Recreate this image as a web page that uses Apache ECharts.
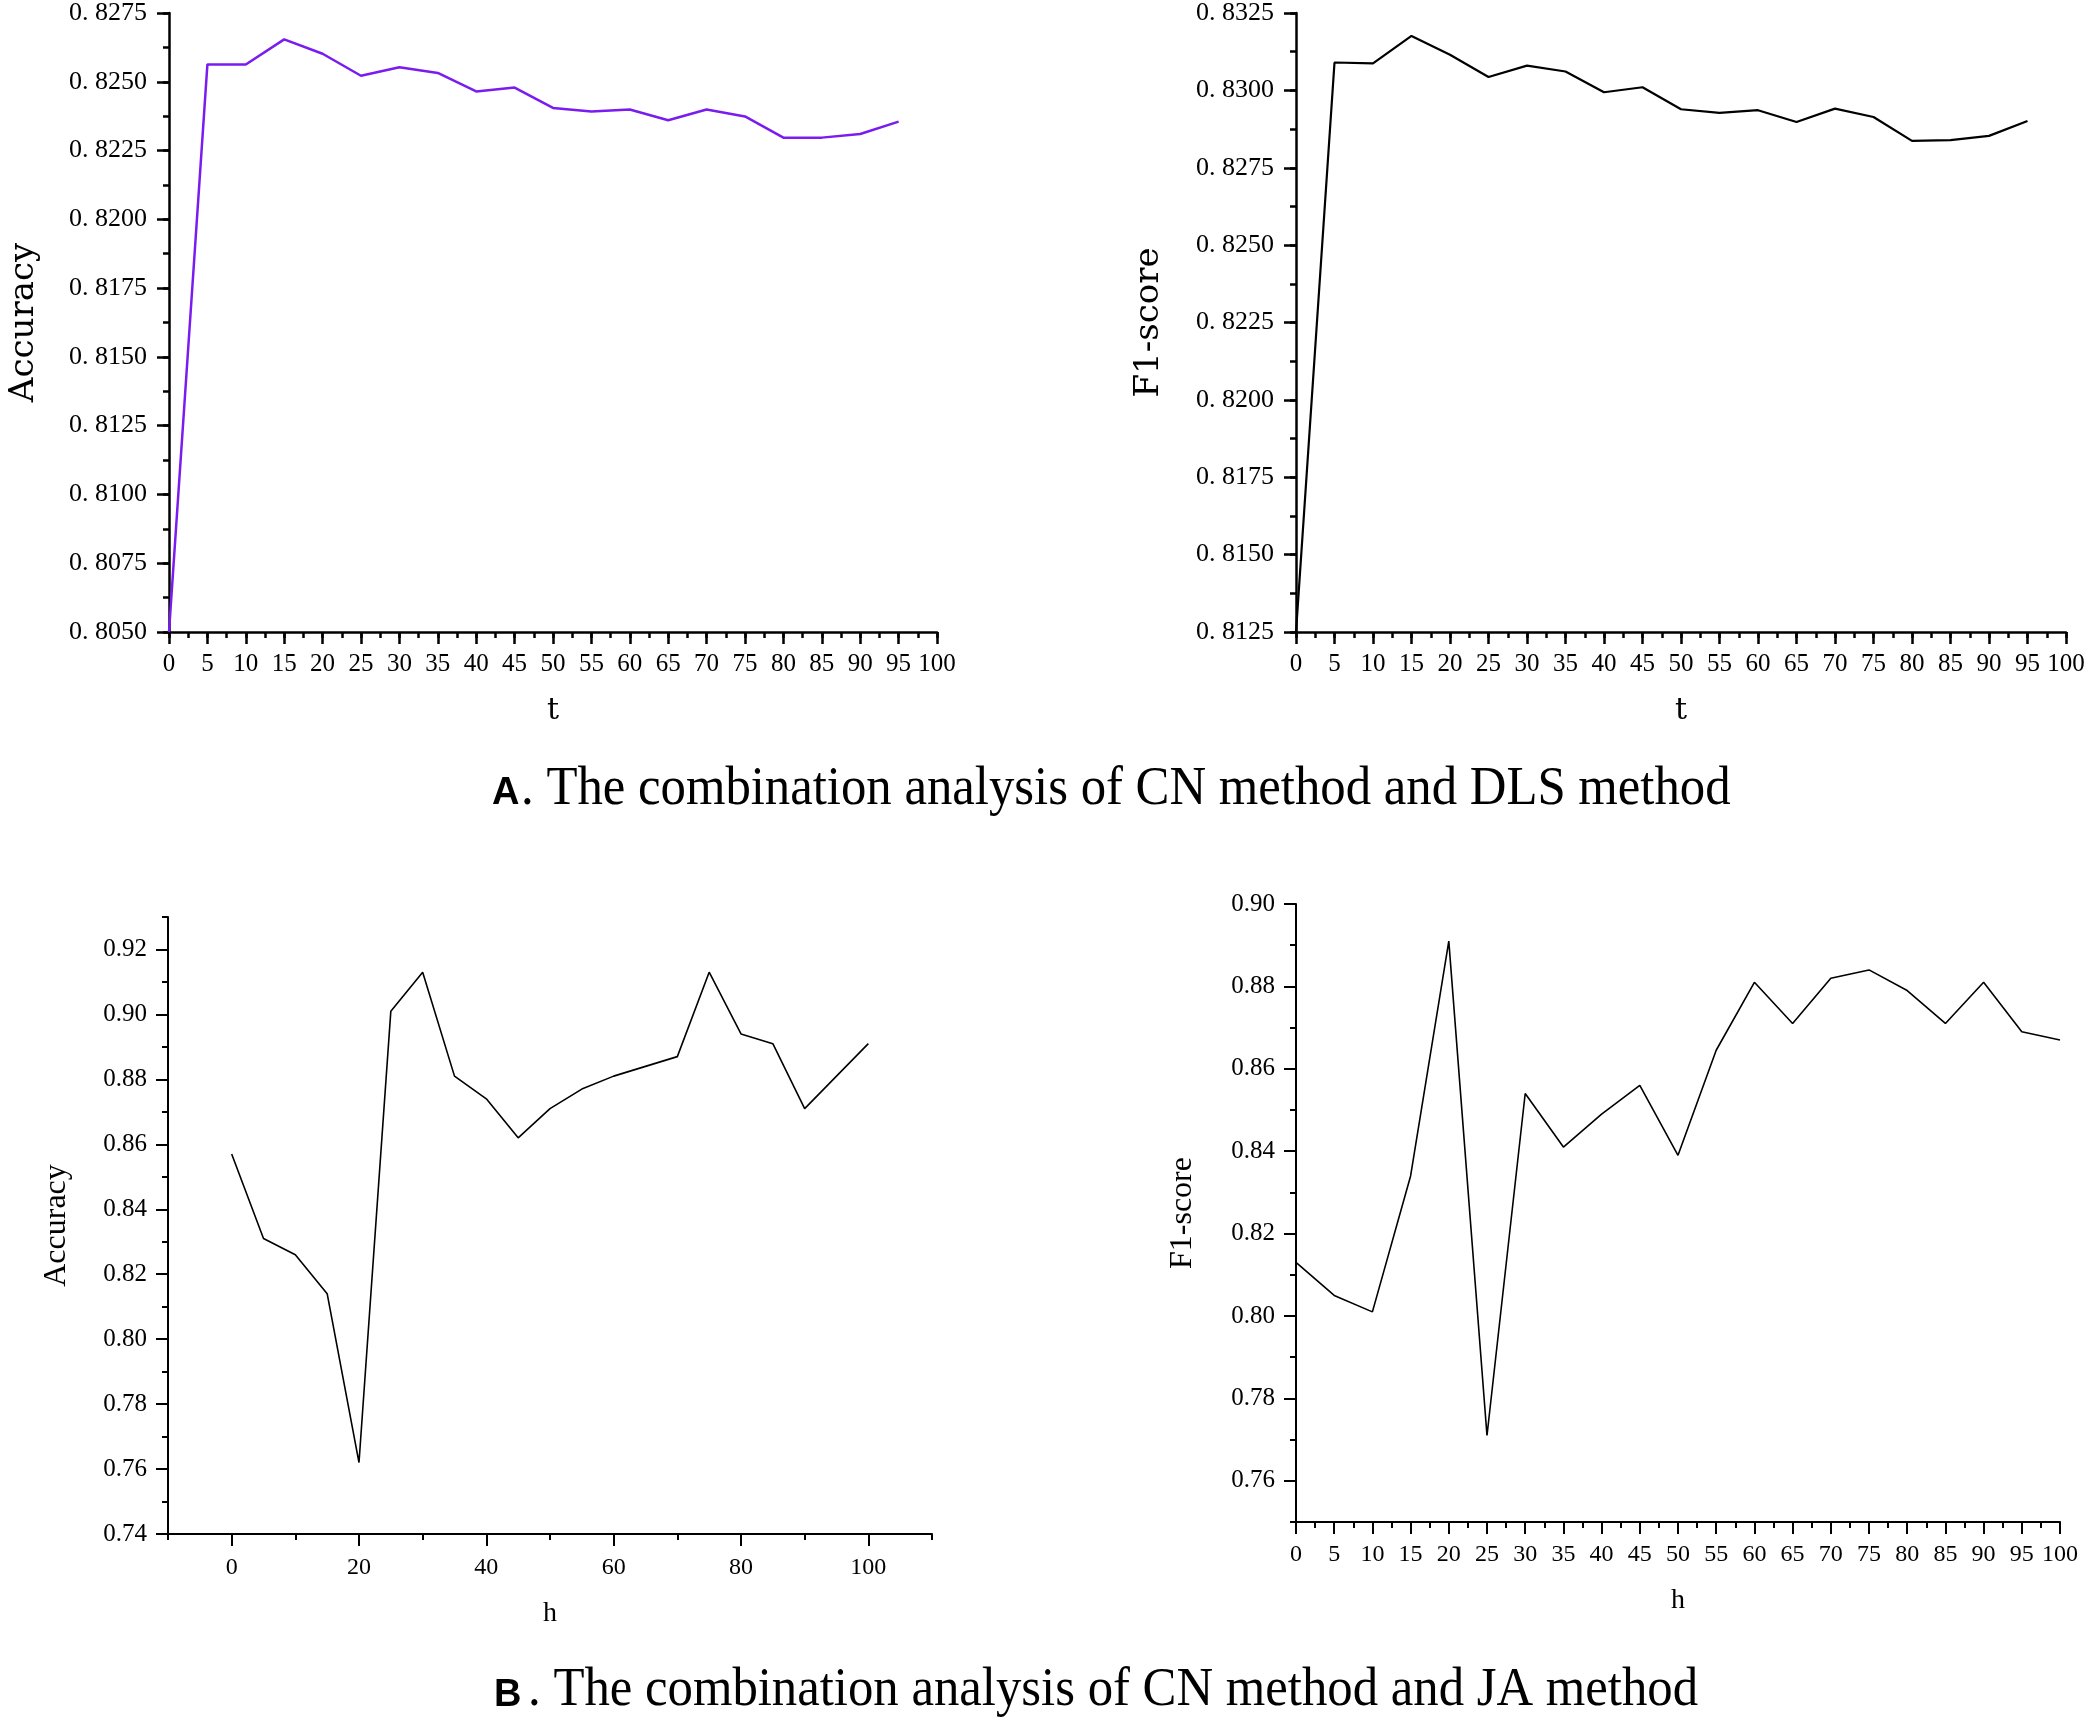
<!DOCTYPE html>
<html>
<head>
<meta charset="utf-8">
<script src="https://cdn.jsdelivr.net/npm/echarts@6/dist/echarts.min.js"></script>
<style>
  html, body { margin: 0; padding: 0; background: #fff; }
  #main { width: 2094px; height: 1717px; }
</style>
</head>
<body>
<div id="main"></div>
<script>
// ---- data ----
const tValues = [0, 5, 10, 15, 20, 25, 30, 35, 40, 45, 50, 55, 60, 65, 70, 75, 80, 85, 90, 95];
const accuracyCnDls = [0.8050, 0.82563, 0.82563, 0.82654, 0.82602, 0.82522, 0.82553, 0.82532, 0.82465,
    0.82479, 0.82405, 0.82392, 0.82399, 0.82360, 0.82399, 0.82374, 0.82297, 0.82297, 0.82310, 0.82355];
const f1CnDls = [0.8125, 0.83090, 0.83087, 0.83176, 0.83115, 0.83043, 0.83080, 0.83061, 0.82994,
    0.83010, 0.82939, 0.82927, 0.82936, 0.82898, 0.82941, 0.82914, 0.82837, 0.82839, 0.82853, 0.82901];

const hValues = [0, 5, 10, 15, 20, 25, 30, 35, 40, 45, 50, 55, 60, 65, 70, 75, 80, 85, 90, 95, 100];
const accuracyCnJa = [0.857, 0.831, 0.826, 0.814, 0.762, 0.901, 0.913, 0.881, 0.874, 0.862, 0.871,
    0.877, 0.881, 0.884, 0.887, 0.913, 0.894, 0.891, 0.871, 0.881, 0.891];
const f1CnJa = [0.813, 0.805, 0.801, 0.834, 0.891, 0.771, 0.854, 0.841, 0.849, 0.856, 0.839,
    0.8645, 0.881, 0.871, 0.882, 0.884, 0.879, 0.871, 0.881, 0.869, 0.867];

// tick labels
const ticks5 = [0, 5, 10, 15, 20, 25, 30, 35, 40, 45, 50, 55, 60, 65, 70, 75, 80, 85, 90, 95, 100];
const ticks20 = [0, 20, 40, 60, 80, 100];
const accTicksA = [0.8050, 0.8075, 0.8100, 0.8125, 0.8150, 0.8175, 0.8200, 0.8225, 0.8250, 0.8275];
const f1TicksA = [0.8125, 0.8150, 0.8175, 0.8200, 0.8225, 0.8250, 0.8275, 0.8300, 0.8325];
const accTicksB = [0.74, 0.76, 0.78, 0.80, 0.82, 0.84, 0.86, 0.88, 0.90, 0.92];
const f1TicksB = [0.76, 0.78, 0.80, 0.82, 0.84, 0.86, 0.88, 0.90];

const captionA = '. The combination analysis of CN method and DLS method';
const captionB = '. The combination analysis of CN method and JA method';

const chart = echarts.init(document.getElementById('main'), null, { renderer: 'canvas' });

const serif = '"Liberation Serif", "Times New Roman", serif';
const wideSerif = '"DejaVu Serif", serif';

function mainAxis(o) {
    return {
        type: 'value',
        gridIndex: o.grid,
        position: o.pos,
        min: o.min,
        max: o.max,
        name: o.name,
        nameLocation: 'middle',
        nameGap: o.nameGap,
        nameTextStyle: { fontFamily: o.nameFont, fontSize: o.nameSize, color: '#000' },
        axisLine: { show: true, onZero: false, lineStyle: { color: '#000', width: o.lw } },
        axisTick: { show: true, inside: false, length: 12, customValues: o.ticks,
            lineStyle: { color: '#000', width: o.lw } },
        axisLabel: { show: true, customValues: o.ticks, margin: o.margin, color: '#000',
            fontFamily: serif, fontSize: o.labelSize, formatter: o.fmt, showMinLabel: true, showMaxLabel: true },
        splitLine: { show: false }
    };
}

function minorAxis(o) {
    return {
        type: 'value',
        gridIndex: o.grid,
        position: o.pos,
        min: o.min,
        max: o.max,
        interval: o.step,
        axisLine: { show: false, onZero: false },
        axisTick: { show: true, inside: false, length: 6, lineStyle: { color: '#000', width: o.lw } },
        axisLabel: { show: false },
        splitLine: { show: false }
    };
}

const fmtA = v => v.toFixed(4).replace('.', '. ');
const fmtB = v => v.toFixed(2);
const fmtX = v => String(Math.round(v));

const option = {
    animation: false,
    backgroundColor: '#fff',
    grid: [
        { left: 169, right: 1157, top: 13, bottom: 1085, outerBoundsMode: 'none', containLabel: false },
        { left: 1296, right: 28, top: 13, bottom: 1085, outerBoundsMode: 'none', containLabel: false },
        { left: 168, right: 1162, top: 917, bottom: 183, outerBoundsMode: 'none', containLabel: false },
        { left: 1296, right: 34, top: 904, bottom: 195, outerBoundsMode: 'none', containLabel: false }
    ],
    xAxis: [
        mainAxis({ grid: 0, pos: 'bottom', min: 0, max: 100, ticks: ticks5, name: 't', nameGap: 64,
            nameFont: wideSerif, nameSize: 30, lw: 2.5, margin: 20, labelSize: 25, fmt: fmtX }),
        mainAxis({ grid: 1, pos: 'bottom', min: 0, max: 100, ticks: ticks5, name: 't', nameGap: 64,
            nameFont: wideSerif, nameSize: 30, lw: 2.5, margin: 20, labelSize: 25, fmt: fmtX }),
        mainAxis({ grid: 2, pos: 'bottom', min: -10, max: 110, ticks: ticks20, name: 'h', nameGap: 66,
            nameFont: serif, nameSize: 28, lw: 2, margin: 22, labelSize: 24, fmt: fmtX }),
        mainAxis({ grid: 3, pos: 'bottom', min: 0, max: 100, ticks: ticks5, name: 'h', nameGap: 65,
            nameFont: serif, nameSize: 28, lw: 2, margin: 21, labelSize: 24, fmt: fmtX }),
        minorAxis({ grid: 0, pos: 'bottom', min: 0, max: 100, step: 2.5, lw: 2.5 }),
        minorAxis({ grid: 1, pos: 'bottom', min: 0, max: 100, step: 2.5, lw: 2.5 }),
        minorAxis({ grid: 2, pos: 'bottom', min: -10, max: 110, step: 10, lw: 2 }),
        minorAxis({ grid: 3, pos: 'bottom', min: 0, max: 100, step: 2.5, lw: 2 })
    ],
    yAxis: [
        mainAxis({ grid: 0, pos: 'left', min: 0.805, max: 0.8275, ticks: accTicksA, name: 'Accuracy', nameGap: 128,
            nameFont: wideSerif, nameSize: 34, lw: 2.5, margin: 22, labelSize: 26, fmt: fmtA }),
        mainAxis({ grid: 1, pos: 'left', min: 0.8125, max: 0.8325, ticks: f1TicksA, name: 'F1-score', nameGap: 130,
            nameFont: wideSerif, nameSize: 34, lw: 2.5, margin: 22, labelSize: 26, fmt: fmtA }),
        mainAxis({ grid: 2, pos: 'left', min: 0.74, max: 0.93, ticks: accTicksB, name: 'Accuracy', nameGap: 95,
            nameFont: serif, nameSize: 32, lw: 2, margin: 21, labelSize: 25, fmt: fmtB }),
        mainAxis({ grid: 3, pos: 'left', min: 0.75, max: 0.90, ticks: f1TicksB, name: 'F1-score', nameGap: 97,
            nameFont: serif, nameSize: 32, lw: 2, margin: 21, labelSize: 25, fmt: fmtB }),
        minorAxis({ grid: 0, pos: 'left', min: 0.805, max: 0.8275, step: 0.00125, lw: 2.5 }),
        minorAxis({ grid: 1, pos: 'left', min: 0.8125, max: 0.8325, step: 0.00125, lw: 2.5 }),
        minorAxis({ grid: 2, pos: 'left', min: 0.74, max: 0.93, step: 0.01, lw: 2 }),
        minorAxis({ grid: 3, pos: 'left', min: 0.75, max: 0.90, step: 0.01, lw: 2 })
    ],
    series: [
        {
            name: 'Accuracy (CN+DLS)', type: 'line', xAxisIndex: 0, yAxisIndex: 0,
            showSymbol: false, lineStyle: { color: '#7a1cf0', width: 2.5 },
            data: tValues.map((t, i) => [t, accuracyCnDls[i]])
        },
        {
            name: 'F1-score (CN+DLS)', type: 'line', xAxisIndex: 1, yAxisIndex: 1,
            showSymbol: false, lineStyle: { color: '#000', width: 2.2 },
            data: tValues.map((t, i) => [t, f1CnDls[i]])
        },
        {
            name: 'Accuracy (CN+JA)', type: 'line', xAxisIndex: 2, yAxisIndex: 2,
            showSymbol: false, lineStyle: { color: '#000', width: 1.6 },
            data: hValues.map((h, i) => [h, accuracyCnJa[i]])
        },
        {
            name: 'F1-score (CN+JA)', type: 'line', xAxisIndex: 3, yAxisIndex: 3,
            showSymbol: false, lineStyle: { color: '#000', width: 1.6 },
            data: hValues.map((h, i) => [h, f1CnJa[i]])
        }
    ],
    graphic: [
        { type: 'text', x: 492, y: 794, style: { text: 'A', fill: '#000', font: 'bold 38px "Liberation Sans", Arial, sans-serif', verticalAlign: 'middle' } },
        { type: 'text', x: 521, y: 790, scaleX: 0.94, style: { text: captionA, fill: '#000', font: '54px ' + serif, verticalAlign: 'middle' } },
        { type: 'text', x: 494, y: 1696, style: { text: 'B', fill: '#000', font: 'bold 38px "Liberation Sans", Arial, sans-serif', verticalAlign: 'middle' } },
        { type: 'text', x: 528, y: 1691, scaleX: 0.94, style: { text: captionB, fill: '#000', font: '54px ' + serif, verticalAlign: 'middle' } }
    ]
};

chart.setOption(option);
</script>
</body>
</html>
